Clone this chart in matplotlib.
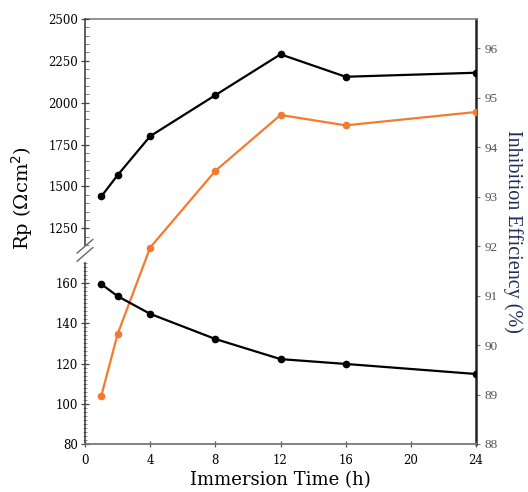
import numpy as np
import matplotlib
matplotlib.use("Agg")
import matplotlib.pyplot as plt
from matplotlib.ticker import MultipleLocator

# data
time_h = [1, 2, 4, 8, 12, 16, 24]
rp_inh = [1440, 1567, 1800, 2045, 2289, 2155, 2179]
rp_blank = [159.5, 153.5, 144.7, 132.2, 122.2, 119.8, 114.8]
ie = [88.97, 90.22, 91.97, 93.52, 94.65, 94.44, 94.71]
x_ticks = [0, 4, 8, 12, 16, 20, 24]

orange = '#f47b2e'
tickfont = 'DejaVu Serif'

fig = plt.figure(figsize=(5.28, 4.92), dpi=100)
L, B, W = 0.161, 0.0976, 0.7405
H = 0.8638

# right axis covering the whole box
ax_r = fig.add_axes([L, B, W, H])
ax_r.patch.set_alpha(0)
ax_r.set_xlim(0, 24)
ax_r.set_ylim(88, 96.59)
ax_r.yaxis.tick_right()
ax_r.set_xticks([])
ax_r.set_yticks(range(88, 97))
for s in ['left', 'bottom']:
    ax_r.spines[s].set_visible(False)
ax_r.spines['top'].set_color('#8a8a8a')
ax_r.spines['top'].set_linewidth(1.3)
ax_r.spines['right'].set_color('#222222')
ax_r.spines['right'].set_linewidth(1.8)
ax_r.tick_params(axis='y', direction='out', length=3, width=0.8, color='#777777',
                 labelcolor='#555555', labelsize=9.5, pad=3)
for t in ax_r.get_yticklabels():
    t.set_family('Liberation Serif')
ax_r.plot(time_h, ie, color=orange, lw=1.6, marker='o', ms=4.5, zorder=3)
ax_r.text(1.095, 0.5, 'Inhibition Efficiency (%)', transform=ax_r.transAxes,
          rotation=270, va='center', ha='center', fontsize=14.5,
          family='Liberation Serif', color='#1e2c58')

# upper left segment
top_b = (492 - 245) / 492
ax_top = fig.add_axes([L, top_b, W, (245 - 19) / 492])
ax_top.patch.set_alpha(0)
ax_top.set_xlim(0, 24)
ax_top.set_ylim(1150, 2500)
ax_top.set_yticks([1250, 1500, 1750, 2000, 2250, 2500])
ax_top.yaxis.set_minor_locator(MultipleLocator(50))
ax_top.set_xticks([])
for s in ['top', 'right', 'bottom']:
    ax_top.spines[s].set_visible(False)
ax_top.spines['left'].set_color('#444444')
ax_top.spines['left'].set_linewidth(1.2)
ax_top.tick_params(axis='y', which='major', direction='inout', length=6, width=0.9,
                   color='#444444', labelsize=8.5, pad=2)
ax_top.tick_params(axis='y', which='minor', direction='in', length=3, width=0.6,
                   color='#666666')
for t in ax_top.get_yticklabels():
    t.set_family(tickfont)
ax_top.plot(time_h, rp_inh, color='black', lw=1.6, marker='o', ms=4.5, zorder=3)

# lower left segment
bot_h = (444 - 263) / 492
ax_bot = fig.add_axes([L, B, W, bot_h])
ax_bot.patch.set_alpha(0)
ax_bot.set_xlim(0, 24)
ax_bot.set_ylim(80, 170)
ax_bot.set_yticks(range(80, 161, 20))
ax_bot.yaxis.set_minor_locator(MultipleLocator(2))
ax_bot.set_xticks(x_ticks)
for s in ['top', 'right']:
    ax_bot.spines[s].set_visible(False)
ax_bot.spines['left'].set_color('#444444')
ax_bot.spines['left'].set_linewidth(1.2)
ax_bot.spines['bottom'].set_color('#777777')
ax_bot.spines['bottom'].set_linewidth(1.3)
ax_bot.tick_params(axis='y', which='major', direction='inout', length=6, width=0.9,
                   color='#444444', labelsize=8.5, pad=2)
ax_bot.tick_params(axis='y', which='minor', direction='inout', length=2.5, width=0.5,
                   color='#555555')
ax_bot.tick_params(axis='x', direction='inout', length=4, width=0.9, color='#555555',
                   labelsize=8.5, pad=5)
for t in ax_bot.get_yticklabels() + ax_bot.get_xticklabels():
    t.set_family(tickfont)
ax_bot.plot(time_h, rp_blank, color='black', lw=1.6, marker='o', ms=4.5, zorder=3)
ax_bot.set_xlabel('Immersion Time (h)', fontsize=13, family='DejaVu Serif',
                  labelpad=3)

# break marks on the left axis
for dy in (0, 0.045):
    ax_bot.plot([-0.02, 0.02], [1.01 + dy, 1.085 + dy], transform=ax_bot.transAxes,
                color='#666666', lw=1.0, clip_on=False)

fig.text(0.042, 0.598, 'Rp (\u03a9cm$^2$)', rotation=90, va='center', ha='center',
         fontsize=14, family='DejaVu Serif')

fig.savefig('out.png', dpi=100)
